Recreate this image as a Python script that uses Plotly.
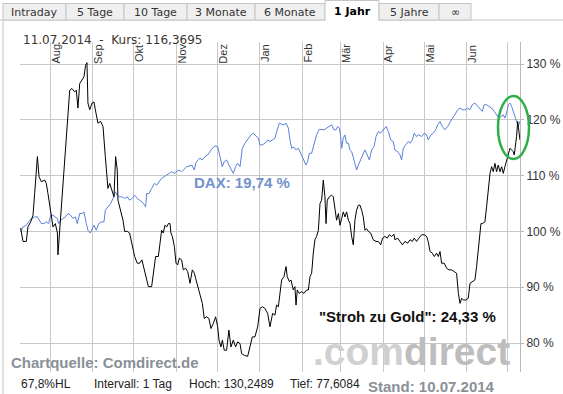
import pandas as pd
import plotly.graph_objects as go

# ---------------- data ----------------
start_date = "2013-07-10"
end_date = "2014-07-10"

# "Stroh zu Gold" performance in % (days after start date, value)
gold_days = [0.5, 2.2, 4.6, 5.8, 7.8, 9.5, 10.7, 12.7, 13.9, 15.6, 18.0, 19.2, 20.4, 22.4, 24.1, 25.8,
             27.3, 27.7, 28.5, 29.7, 31.4, 33.1, 35.0, 36.3, 37.9, 39.9, 41.1, 42.3, 43.6, 45.3, 46.7,
             47.9, 48.9, 49.6, 50.9, 52.6, 54.0, 55.0, 56.9, 58.9, 60.6, 62.3, 64.2, 65.5, 67.2, 68.6,
             69.8, 71.0, 71.5, 73.5, 75.2, 76.4, 78.3, 80.0, 81.8, 83.7, 85.6, 87.3, 89.0, 90.5, 92.2,
             93.7, 96.1, 97.3, 99.0, 101.0, 102.2, 103.4, 104.6, 105.8, 107.1, 108.3, 109.5, 110.2,
             111.2, 112.7, 113.9, 115.1, 116.3, 118.0, 119.2, 120.9, 122.4, 124.1, 125.8, 127.3, 128.2,
             129.7, 131.4, 133.1, 134.5, 136.2, 137.9, 139.4, 141.1, 142.8, 144.3, 145.3, 146.7, 147.7,
             149.1, 150.8, 152.5, 154.0, 155.7, 157.4, 158.9, 160.6, 161.8, 163.7, 166.2, 167.9, 169.6,
             171.5, 173.5, 175.2, 176.9, 178.8, 180.8, 182.5, 184.4, 186.1, 187.3, 188.6, 189.8, 191.0,
             192.7, 194.2, 195.1, 196.6, 197.8, 199.5, 200.7, 201.5, 202.4, 203.9, 205.6, 207.3, 209.2,
             210.5, 211.7, 212.9, 214.1, 215.3, 216.5, 217.8, 219.0, 220.2, 221.4, 222.6, 223.4, 224.3,
             225.8, 227.5, 228.7, 229.9, 231.1, 232.4, 233.6, 234.8, 236.0, 237.2, 238.4, 239.7, 240.9,
             242.1, 243.3, 244.5, 245.7, 247.0, 248.2, 249.4, 250.6, 251.8, 253.0, 254.3, 256.0, 257.9,
             259.9, 261.6, 263.3, 264.7, 266.4, 268.1, 269.6, 271.3, 273.0, 273.7, 275.7, 277.4, 279.1,
             281.0, 283.0, 284.7, 286.4, 287.8, 289.5, 291.2, 293.2, 295.1, 296.8, 298.0, 299.3, 301.0,
             302.4, 304.1, 305.4, 306.6, 307.8, 309.7, 311.4, 313.1, 315.1, 317.0, 318.7, 320.0, 321.2,
             322.4, 323.6, 325.3, 327.2, 328.5, 330.2, 332.1, 333.3, 335.0, 336.5, 337.5, 339.4, 340.6,
             341.8, 343.1, 344.3, 345.5, 346.7, 347.9, 349.1, 350.4, 351.6, 352.8, 354.0, 355.2, 356.5,
             357.7, 358.9, 360.1, 360.8, 361.8, 362.5, 363.3, 364.2, 365.0]
gold_values = [100.6, 98.2, 98.2, 100.8, 101.7, 102.9, 106.8, 113.4, 109.8, 108.9, 109.2, 108.6, 106.8,
               103.8, 100.8, 101.4, 99.7, 95.8, 98.5, 103.8, 108.0, 114.0, 121.2, 125.3, 125.6, 125.0,
               125.3, 122.1, 126.5, 127.1, 127.7, 129.8, 130.25, 123.0, 121.8, 123.0, 123.2, 121.8, 119.4,
               119.7, 118.8, 113.4, 107.7, 108.6, 107.4, 106.2, 113.4, 111.0, 105.6, 103.8, 102.0, 100.0,
               100.0, 99.7, 97.9, 95.5, 94.3, 94.3, 94.9, 93.4, 91.3,
               90.1, 90.1, 92.5, 95.5, 95.5, 98.5, 100.2, 99.7, 101.1, 100.8, 101.4, 101.4, 99.7,
               99.1, 97.3, 94.3, 94.0, 95.2, 94.9, 93.1, 93.4, 92.8, 90.7, 93.1, 92.5, 91.6,
               90.1, 88.9, 87.1, 84.4, 84.7, 84.4, 82.6, 83.5, 84.7, 82.9, 80.5, 79.3, 80.5,
               78.7, 78.7, 82.3, 79.3, 80.5, 79.3, 80.2, 79.9, 78.1, 77.8, 77.61, 79.6, 81.1,
               81.1, 82.9, 86.2, 86.5, 86.2, 85.3, 82.9, 85.3, 85.0, 86.8, 86.5, 88.9, 91.3,
               91.9, 93.7, 91.9, 91.0, 91.3, 89.5, 90.1, 86.8, 89.5, 88.9, 89.2, 88.9, 89.5,
               89.5, 91.9, 92.5, 96.1, 98.5, 99.1, 100.2, 105.0, 105.6, 109.2, 106.2, 101.4, 105.6,
               106.2, 106.5, 106.2, 104.4, 102.0, 103.2, 101.1, 102.3, 103.5, 102.6, 103.5, 102.0, 101.4,
               99.1, 97.6, 102.0, 103.8, 104.7, 104.7, 103.8, 102.6, 100.2, 100.5, 100.0, 99.7, 98.5,
               98.2, 98.2, 97.6, 98.8, 99.1, 98.8, 99.4, 99.1, 99.5, 98.5, 98.8, 98.2, 97.6,
               98.2, 97.9, 98.5, 98.2, 98.8, 98.2, 98.8, 99.4, 99.4, 99.1, 98.2, 96.4, 96.1,
               95.5, 96.1, 95.5, 96.4, 94.3, 94.3, 93.4, 93.1, 93.1, 92.8, 92.5, 88.9, 87.1,
               88.0, 87.7, 87.7, 88.0, 90.7, 91.0, 91.3, 93.7, 97.3, 101.4, 101.4, 101.7, 104.4,
               106.8, 110.4, 111.6, 110.7, 112.2, 110.7, 111.9, 110.7, 111.6, 110.4, 111.6, 112.8, 114.0,
               114.9, 114.6, 114.3, 113.7, 115.5, 117.0, 119.7, 117.6, 116.37]

# DAX performance in %
dax_days = [0.0, 1.0, 2.2, 4.6, 7.1, 8.8, 10.7, 12.7, 14.4, 15.6, 17.5, 19.2, 20.9, 22.4, 24.1, 25.8,
            27.3, 28.2, 29.7, 31.4, 33.1, 35.0, 37.0, 38.7, 40.4, 41.8, 43.6, 45.3, 46.7, 48.4, 49.6,
            51.3, 52.6, 54.0, 55.7, 57.4, 59.4, 61.3, 62.3, 64.2, 66.2, 67.9, 69.6, 71.0, 72.7, 74.4,
            76.4, 78.3, 80.0, 81.8, 83.7, 85.6, 87.3, 89.0, 91.0, 91.7, 92.5, 94.2, 96.1, 98.1, 99.8,
            101.5, 103.4, 105.3, 107.1, 108.8, 110.7, 112.7, 114.4, 116.1, 118.0, 120.0, 121.7, 123.4,
            125.3, 127.3, 128.2, 130.2, 131.4, 133.1, 135.0, 137.0, 138.7, 140.4, 142.3, 144.3, 146.0,
            147.7, 149.1, 150.8, 152.5, 154.0, 155.7, 157.4, 158.9, 160.6, 162.3, 164.2, 166.7, 168.6,
            170.3, 172.0, 174.0, 175.2, 176.9, 178.8, 180.8, 182.5, 184.4, 186.1, 187.8, 189.3, 191.0,
            192.7, 194.2, 195.9, 197.1, 198.3, 200.0, 201.5, 203.2, 204.9, 206.8, 208.8, 210.0, 211.2,
            212.9, 214.6, 216.5, 218.5, 220.2, 221.9, 223.8, 225.8, 227.5, 229.2, 230.7, 231.9, 233.1,
            234.1, 234.8, 236.0, 237.2, 238.4, 239.7, 240.9, 242.1, 243.8, 245.7, 247.0, 248.7, 250.1,
            251.8, 253.5, 255.0, 256.7, 258.4, 259.9, 261.6, 263.3, 265.2, 267.2, 268.9, 270.6, 272.5,
            273.7, 275.7, 277.4, 278.6, 279.8, 281.5, 283.5, 284.7, 286.4, 287.8, 289.5, 291.2, 293.2,
            295.1, 296.8, 298.0, 300.0, 301.7, 303.4, 304.9, 306.6, 308.3, 310.2, 312.2, 313.9, 315.6,
            317.5, 319.5, 321.2, 322.9, 324.8, 326.8, 328.5, 330.2, 332.1, 334.1, 335.8, 337.5, 338.9,
            340.6, 342.3, 344.3, 346.2, 347.9, 349.6, 351.1, 352.8, 354.0, 355.2, 356.5, 357.7, 358.9,
            360.1, 361.3, 362.5, 363.7, 365.0]
dax_values = [100.0, 100.2, 100.8, 101.1, 102.0, 102.3, 102.6, 102.6, 102.0, 101.4, 101.4, 101.7, 101.4,
              102.9, 102.9, 102.6, 102.3, 101.4, 102.0, 102.3, 102.6, 103.2, 102.9, 102.3, 102.6, 101.4,
              103.2, 103.2, 103.5, 101.4, 100.2, 99.7, 100.5, 101.1, 100.2, 101.4, 101.7, 101.7, 103.8,
              104.4, 105.0, 105.9, 107.1, 106.5, 106.2, 106.2, 105.9, 106.2, 105.6, 105.9, 106.5, 105.9,
              105.6, 105.3, 104.7, 104.4, 106.8, 106.8, 107.7, 108.6, 108.3, 108.9, 109.5, 109.8, 110.1,
              110.4, 110.7, 110.4, 110.7, 111.0, 110.7, 111.3, 111.6, 111.7, 111.9, 111.0, 112.2, 112.9,
              113.1, 112.8, 113.4, 113.7, 114.3, 114.9, 115.3, 115.2, 113.4, 111.6, 112.5, 112.8, 111.9,
              111.3, 110.4, 111.6, 112.2, 111.6, 114.9, 115.8, 116.7, 117.3, 117.6, 117.1, 116.7, 115.5,
              115.5, 115.8, 116.4, 116.1, 116.4, 116.7, 118.2, 119.4, 119.2, 119.1, 119.4, 118.5, 116.4,
              114.9, 115.1, 114.6, 114.9, 114.0, 113.1, 111.9, 112.5, 114.0, 114.0, 115.5, 117.3, 118.3,
              118.2, 118.2, 118.5, 118.8, 119.1, 118.2, 118.2, 118.8, 118.5, 117.0, 114.9, 116.7, 117.3,
              115.8, 115.8, 114.6, 114.3, 112.8, 111.0, 111.9, 112.8, 113.4, 114.6, 113.7, 112.8, 114.6,
              115.2, 117.0, 117.9, 117.6, 118.2, 118.8, 117.9, 116.4, 116.1, 114.6, 114.3, 113.7, 112.8,
              114.9, 115.5, 116.1, 115.8, 116.4, 117.6, 117.0, 117.3, 117.0, 117.6, 117.3, 116.4, 117.3,
              117.6, 118.2, 119.1, 119.7, 118.8, 118.2, 118.8, 119.7, 120.3, 120.9, 121.8, 122.1, 121.8,
              121.8, 122.1, 121.8, 122.7, 123.0, 122.4, 122.1, 121.5, 122.7, 122.7, 122.4, 122.1, 121.5,
              120.9, 120.3, 120.6, 120.9, 120.3, 121.2, 122.7, 123.0, 122.4, 121.5, 120.9, 120.0, 118.8,
              119.74]

month_starts = ["2013-08-01", "2013-09-01", "2013-10-01", "2013-11-01", "2013-12-01", "2014-01-01",
                "2014-02-01", "2014-03-01", "2014-04-01", "2014-05-01", "2014-06-01", "2014-07-01"]
month_labels = ["Aug", "Sep", "Okt", "Nov", "Dez", "Jan", "Feb", "Mär", "Apr", "Mai", "Jun", ""]
y_ticks = [80, 90, 100, 110, 120, 130]
y_tick_labels = ["80 %", "90 %", "100 %", "110 %", "120 %", "130 %"]
tab_labels = ["Intraday", "5 Tage", "10 Tage", "3 Monate", "6 Monate", "1 Jahr", "5 Jahre", "∞"]
active_tab = "1 Jahr"

# ---------------- layout geometry ----------------
W, H = 563, 394
ML, MR, MT, MB = 20, 43, 42, 22
PW, PH = W - ML - MR, H - MT - MB


def px(x):
    return (x - ML) / PW


def py(y):
    return (H - MB - y) / PH


t0 = pd.Timestamp(start_date)
gold_x = [t0 + pd.Timedelta(days=d) for d in gold_days]
dax_x = [t0 + pd.Timedelta(days=d) for d in dax_days]

ARIAL = "Arial, Liberation Sans, sans-serif"
VERD = "DejaVu Sans, Verdana, sans-serif"

fig = go.Figure()
fig.add_trace(go.Scatter(x=dax_x, y=dax_values, mode="lines",
                         line=dict(color="#5a80dc", width=1), hoverinfo="skip"))
fig.add_trace(go.Scatter(x=gold_x, y=gold_values, mode="lines",
                         line=dict(color="#000000", width=1), hoverinfo="skip"))

shapes = []
annotations = []

# tabs
tab_edges = [3, 66, 124, 187, 255, 325, 379, 439, 471]
shapes.append(dict(type="line", xref="paper", yref="paper", x0=px(0), x1=px(W),
                   y0=py(20), y1=py(20), line=dict(color="#c4c4c4", width=1)))
for i, lab in enumerate(tab_labels):
    x0, x1 = tab_edges[i], tab_edges[i + 1]
    active = lab == active_tab
    if active:
        shapes.append(dict(type="rect", xref="paper", yref="paper", x0=px(x0), x1=px(x1),
                           y0=py(21), y1=py(0.5), fillcolor="#ffffff", line=dict(width=0)))
        shapes.append(dict(type="path", xref="paper", yref="paper",
                           path=f"M {px(x0)},{py(20.5)} L {px(x0)},{py(0.5)} L {px(x1)},{py(0.5)} L {px(x1)},{py(20.5)}",
                           line=dict(color="#c4c4c4", width=1)))
    else:
        shapes.append(dict(type="rect", xref="paper", yref="paper", x0=px(x0), x1=px(x1),
                           y0=py(20), y1=py(3.5), fillcolor="#efefef",
                           line=dict(color="#c4c4c4", width=1)))
    annotations.append(dict(text=f"<b>{lab}</b>" if active else lab, xref="paper", yref="paper",
                            x=px((x0 + x1) / 2), y=py(12.5 if not active else 11.5),
                            xanchor="center", yanchor="middle", showarrow=False,
                            font=dict(family=VERD, size=11, color="#000000" if active else "#333333")))

# page left border
shapes.append(dict(type="line", xref="paper", yref="paper", x0=px(3), x1=px(3),
                   y0=py(20), y1=py(H), line=dict(color="#c4c4c4", width=1)))

# green ellipse
shapes.append(dict(type="circle", xref="paper", yref="paper", x0=px(498), x1=px(529),
                   y0=py(159), y1=py(96), line=dict(color="#2fae49", width=2.5)))

# header
annotations.append(dict(text="11.07.2014 \u00a0-\u00a0 Kurs: 116,3695", xref="paper", yref="paper",
                        x=px(21), y=py(39.5), xanchor="left", yanchor="middle", showarrow=False,
                        font=dict(family=VERD, size=12, color="#3a3530")))

# month labels
for ms, ml in zip(month_starts, month_labels):
    if not ml:
        continue
    annotations.append(dict(text=ml, xref="x", yref="paper",
                            x=pd.Timestamp(ms) + pd.Timedelta(days=4.3), y=py(53.5),
                            xanchor="center", yanchor="middle", textangle=-90, showarrow=False,
                            font=dict(family=ARIAL, size=11, color="#333333")))

# watermark
annotations.append(dict(text="<b><span style='color:#d0d0d0'>.com</span><span style='color:#bdbdbd'>direct</span></b>",
                        xref="paper", yref="paper", x=px(311), y=py(351),
                        xanchor="left", yanchor="middle", showarrow=False,
                        font=dict(family=ARIAL, size=39, color="#c4c4c4")))

# series labels
annotations.append(dict(text="<b>DAX: 19,74 %</b>", xref="paper", yref="paper", x=px(192), y=py(182.5),
                        xanchor="left", yanchor="middle", showarrow=False,
                        font=dict(family=ARIAL, size=15, color="#7492cc")))
annotations.append(dict(text="<b>\"Stroh zu Gold\": 24,33 %</b>", xref="paper", yref="paper",
                        x=px(317), y=py(316), xanchor="left", yanchor="middle", showarrow=False,
                        font=dict(family=ARIAL, size=15, color="#111111")))

# chart source + footer
annotations.append(dict(text="<b>Chartquelle: Comdirect.de</b>", xref="paper", yref="paper",
                        x=px(9), y=py(362), xanchor="left", yanchor="middle", showarrow=False,
                        font=dict(family=ARIAL, size=15, color="#8a9097")))
footer = [("67,8%HL", 19), ("Intervall: 1 Tag", 92), ("Hoch: 130,2489", 187), ("Tief: 77,6084", 288)]
for txt, x in footer:
    annotations.append(dict(text=txt, xref="paper", yref="paper", x=px(x), y=py(384),
                            xanchor="left", yanchor="middle", showarrow=False,
                            font=dict(family=ARIAL, size=12, color="#222222")))
annotations.append(dict(text="<b>Stand: 10.07.2014</b>", xref="paper", yref="paper",
                        x=px(366), y=py(386.5), xanchor="left", yanchor="middle", showarrow=False,
                        font=dict(family=ARIAL, size=15, color="#8a9097")))

y_lo = 80 - (372 - 343) * 50 / 279
y_hi = 130 + (64 - 42) * 50 / 279

fig.update_layout(
    width=W, height=H, autosize=False,
    margin=dict(l=ML, r=MR, t=MT, b=MB, pad=0, autoexpand=False),
    paper_bgcolor="#ffffff", plot_bgcolor="#ffffff",
    showlegend=False,
    shapes=shapes, annotations=annotations,
    xaxis=dict(type="date", range=[start_date, end_date], tickvals=month_starts,
               showticklabels=False, ticks="", showgrid=True, gridcolor="#c8c8c8", gridwidth=1,
               zeroline=False, showline=False, fixedrange=True, automargin=False),
    yaxis=dict(side="right", range=[y_lo, y_hi], tickvals=y_ticks, ticktext=y_tick_labels,
               showgrid=True, gridcolor="#c8c8c8", gridwidth=1, zeroline=False,
               showline=True, linecolor="#b8b8b8", linewidth=1,
               ticks="outside", ticklen=3, tickcolor="#b8b8b8", automargin=False,
               tickfont=dict(family=ARIAL, size=12, color="#333333"), fixedrange=True),
)

fig.write_html("out.html", config={"displayModeBar": False},
               post_script="document.body.style.margin='0';document.body.style.overflow='hidden';")
